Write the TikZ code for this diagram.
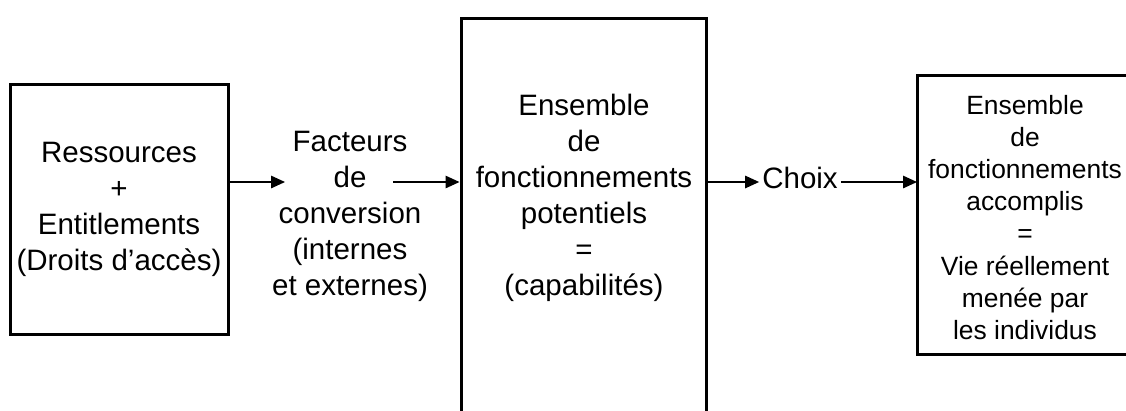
\documentclass[tikz,border=0pt]{standalone}
\usepackage{fontspec}
\setmainfont{Liberation Sans}
\usetikzlibrary{arrows.meta}
\begin{document}
\begin{tikzpicture}[x=1pt,y=-1pt,
  boxnode/.style={draw=black, line width=3pt, inner sep=0pt, align=center},
  boxline/.style={draw=black, line width=3pt},
  bigtext/.style={font={\fontsize{29.5}{36}\selectfont}, align=center, inner sep=0pt},
  smalltext/.style={font={\fontsize{26.4}{32.1}\selectfont}, align=center, inner sep=0pt},
  arr/.style={line width=1.4pt, -{Triangle[length=14pt,width=12.5pt]}}]
\useasboundingbox (0,0) rectangle (1126,410);
\clip (0,0) rectangle (1126,410);
\fill[white] (0,0) rectangle (1126,410);
\coordinate (ly) at (0,182);
% box 1
\node[boxnode, bigtext, minimum width=218, minimum height=250] (b1) at (119,209)
  {Ressources\\+\\Entitlements\\(Droits d’accès)};
% conversion factors
\node[bigtext] (fc) at (350,216.5)
  {Facteurs\\de\\conversion\\(internes\\et externes)};
% box 2 (cut at bottom)
\node[boxnode, minimum width=245, minimum height=440, anchor=north] (b2) at (583.5,17) {};
\node[bigtext] (t2) at (584,198)
  {Ensemble\\de\\fonctionnements\\potentiels\\=\\(capabilités)};
% choix
\node[bigtext, inner xsep=3pt, anchor=base] (ch) at (800,188) {Choix};
% box 3 (cut at right)
\node[inner sep=0pt, minimum width=260, minimum height=278, anchor=west] (b3) at (917,215) {};
\draw[boxline] (b3.north east) -- (b3.north west) -- (b3.south west) -- (b3.south east);
\node[smalltext] (t3) at (1025,217.5)
  {Ensemble\\de\\fonctionnements\\accomplis\\=\\Vie réellement\\menée par\\les individus};
% arrows
\coordinate (a1) at (285,182);
\coordinate (a2) at (393,182);
\draw[arr] (b1.east |- ly) -- (a1);
\draw[arr] (a2) -- (b2.west |- ly);
\draw[arr] (b2.east |- ly) -- (ch.west |- ly);
\draw[arr] (ch.east |- ly) -- (b3.west |- ly);
\end{tikzpicture}
\end{document}
